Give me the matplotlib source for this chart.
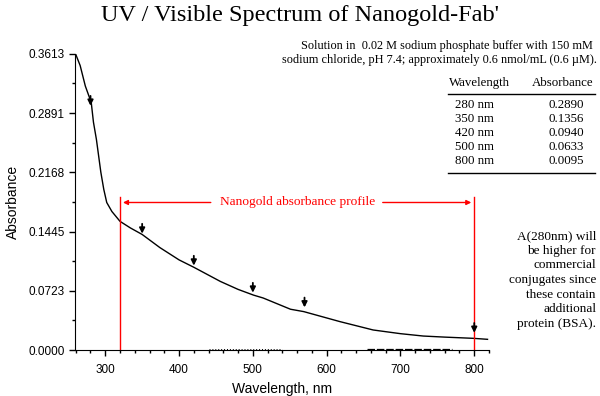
import matplotlib
matplotlib.use("Agg")
import matplotlib.pyplot as plt
from matplotlib.ticker import FixedLocator, MultipleLocator

# ---- data ----
wavelength = [259, 266, 273, 281, 284, 288, 291, 294, 298, 302, 309, 320, 334, 350,
              374, 400, 420, 456, 480, 501, 514, 551, 569, 618, 663, 700, 731, 760, 799, 818]
absorbance = [0.363, 0.347, 0.322, 0.302, 0.278, 0.257, 0.237, 0.217, 0.196, 0.180, 0.169,
              0.157, 0.149, 0.141, 0.125, 0.110, 0.101, 0.0837, 0.074, 0.067, 0.0635,
              0.0498, 0.0469, 0.0347, 0.0245, 0.0200, 0.0171, 0.0158, 0.0143, 0.0131]

# faint baseline trace visible just above zero
baseline_wl = [440, 540, 655, 770]
baseline_abs = [0.0012, 0.0012, 0.0015, 0.0015]

arrow_wl = [280, 350, 420, 500, 570, 800]
arrow_tip = [0.298, 0.142, 0.103, 0.070, 0.052, 0.021]

table_wl = ["280 nm", "350 nm", "420 nm", "500 nm", "800 nm"]
table_abs = ["0.2890", "0.1356", "0.0940", "0.0633", "0.0095"]

yticks = [0.0, 0.0723, 0.1445, 0.2168, 0.2891, 0.3613]
ytick_labels = ["0.0000", "0.0723", "0.1445", "0.2168", "0.2891", "0.3613"]
xticks = [300, 400, 500, 600, 700, 800]

profile_start, profile_end = 320, 800
profile_top = 0.187
profile_arrow_y = 0.180

title = "UV / Visible Spectrum of Nanogold-Fab'"
note_lines = ["Solution in  0.02 M sodium phosphate buffer with 150 mM",
              "sodium chloride, pH 7.4; approximately 0.6 nmol/mL (0.6 \u00b5M)."]
side_note = ("A(280nm) will\nbe higher for\ncommercial\nconjugates since\n"
             "these contain\nadditional\nprotein (BSA).")

SERIF = ["Liberation Serif", "DejaVu Serif"]
SANS = ["Liberation Sans", "DejaVu Sans"]
RED = "#ff0000"

fig = plt.figure(figsize=(6.0, 3.96), dpi=100)
ax = fig.add_axes([0.125, 0.116, 0.69, 0.748])

ax.plot(wavelength, absorbance, color="black", lw=1.0)
ax.plot(baseline_wl[:2], baseline_abs[:2], color="black", lw=0.7, ls=(0, (1, 2)))
ax.plot(baseline_wl[2:], baseline_abs[2:], color="black", lw=0.9, ls=(0, (6, 1.5)))

for w, t in zip(arrow_wl, arrow_tip):
    ax.annotate("", xy=(w, t), xytext=(w, t + 0.012),
                arrowprops=dict(arrowstyle="-|>", color="black", lw=1.3,
                                mutation_scale=8, shrinkA=0, shrinkB=0))

# red profile annotation
ax.plot([profile_start, profile_start], [0, profile_top], color=RED, lw=1.0)
ax.plot([profile_end, profile_end], [0, profile_top], color=RED, lw=1.0)
ax.annotate("", xy=(profile_start + 4, profile_arrow_y), xytext=(443, profile_arrow_y),
            arrowprops=dict(arrowstyle="-|>", color=RED, lw=1.0, mutation_scale=7,
                            shrinkA=0, shrinkB=0))
ax.annotate("", xy=(profile_end - 4, profile_arrow_y), xytext=(676, profile_arrow_y),
            arrowprops=dict(arrowstyle="-|>", color=RED, lw=1.0, mutation_scale=7,
                            shrinkA=0, shrinkB=0))
ax.text(560, profile_arrow_y, "Nanogold absorbance profile", color=RED,
        ha="center", va="center", fontsize=9.6, family=SERIF)

ax.set_xlim(259, 820)
ax.set_ylim(0, 0.3613)
ax.spines["top"].set_visible(False)
ax.spines["right"].set_visible(False)
ax.xaxis.set_major_locator(FixedLocator(xticks))
ax.xaxis.set_minor_locator(MultipleLocator(20))
ax.yaxis.set_major_locator(FixedLocator(yticks))
ax.set_yticklabels(ytick_labels)
ax.yaxis.set_minor_locator(FixedLocator([(a + b) / 2 for a, b in zip(yticks[:-1], yticks[1:])]))
ax.tick_params(which="major", direction="out", length=4, width=1, labelsize=8.5)
ax.tick_params(axis="x", which="major", pad=6)
ax.tick_params(which="minor", direction="out", length=2.5, width=1)
for lab in ax.get_xticklabels() + ax.get_yticklabels():
    lab.set_family(SANS)
ax.set_xlabel("Wavelength, nm", fontsize=10, family=SANS, labelpad=4)
ax.set_ylabel("Absorbance", fontsize=10, family=SANS, labelpad=6)

# texts
fig.text(0.5, 0.962, title, ha="center", va="center", fontsize=17.5, family=SERIF)
fig.text(593 / 600, 1 - 46 / 396, note_lines[0], ha="right", va="center", fontsize=8.8,
         family=SERIF)
fig.text(597 / 600, 1 - 60 / 396, note_lines[1], ha="right", va="center", fontsize=8.8,
         family=SERIF)

# table
fs_tab = 9.3
fig.text(449 / 600, 1 - 83 / 396, "Wavelength", ha="left", va="center", fontsize=fs_tab, family=SERIF)
fig.text(593 / 600, 1 - 83 / 396, "Absorbance", ha="right", va="center", fontsize=fs_tab, family=SERIF)
fig.add_artist(plt.Line2D([448 / 600, 595 / 600], [1 - 94 / 396, 1 - 94 / 396],
                          color="black", lw=1.0, transform=fig.transFigure))
for i, (a, b) in enumerate(zip(table_wl, table_abs)):
    yy = 1 - (105 + 14 * i) / 396
    fig.text(455 / 600, yy, a, ha="left", va="center", fontsize=fs_tab, family=SERIF)
    fig.text(584 / 600, yy, b, ha="right", va="center", fontsize=fs_tab, family=SERIF)
fig.add_artist(plt.Line2D([448 / 600, 595 / 600], [1 - 173 / 396, 1 - 173 / 396],
                          color="black", lw=1.0, transform=fig.transFigure))

fig.text(596 / 600, 1 - 280 / 396, side_note, ha="right", va="center", fontsize=9.5,
         family=SERIF, linespacing=1.28)

fig.savefig("out.png", dpi=100)
